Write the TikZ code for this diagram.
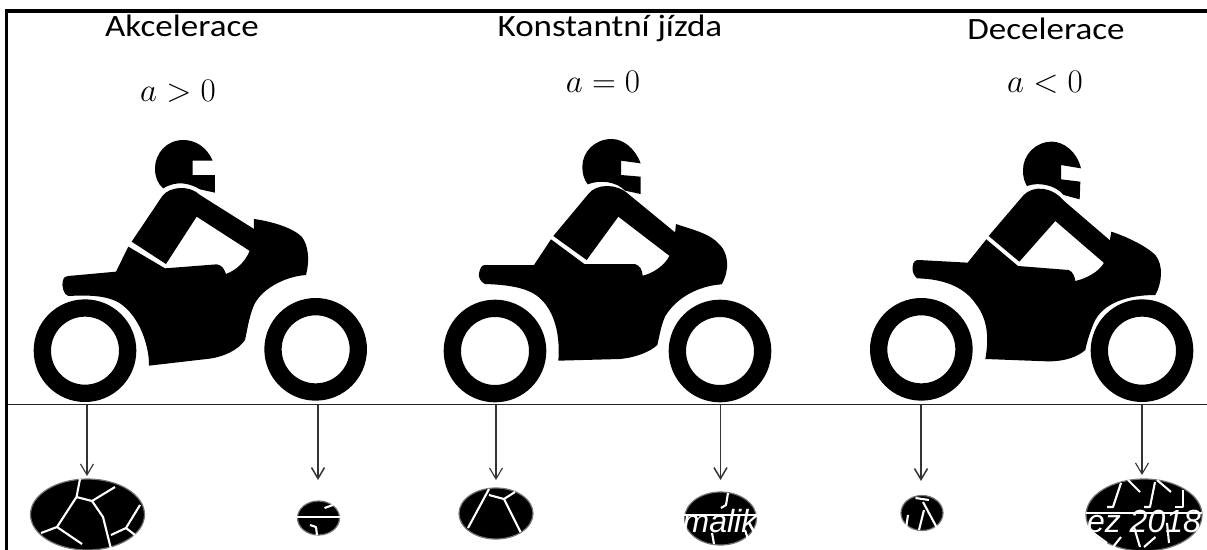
\RequirePackage{fix-cm}
\documentclass[tikz,border=0pt]{standalone}
\usepackage{amsmath}
\usepackage{fontspec}
\setmainfont{Carlito}
\newfontfamily\markfont{Liberation Sans}
\usetikzlibrary{arrows.meta,shapes.geometric}
\newcommand{\widetitle}[1]{\scalebox{1.13}[1]{#1}}
\tikzset{
  title/.style={font=\fontsize{31}{34}\selectfont,inner sep=0pt,anchor=base},
  law/.style={font=\fontsize{33}{36}\selectfont,inner sep=0pt,anchor=base},
  wheel/.style={draw=black,line width=17.3pt,fill=white},
  crack/.style={draw=white,line width=2.1pt,line join=round},
  hole/.style={ellipse,fill=black,draw=black!55,line width=1.2pt,inner sep=0pt},
  drop/.style={draw=black!80,line width=1.1pt,->,>={Straight Barb[length=11pt,width=13pt]}},
  marktext/.style={text=white,inner sep=0pt,anchor=base,font=\markfont\itshape\fontsize{32}{34}\selectfont},
  bike/.style={x=0.33333pt,y=-0.33333pt}
}
\begin{document}
\begin{tikzpicture}[x=1pt,y=-1pt]
\useasboundingbox (0,0) rectangle (1207,549);
\fill[white] (0,0) rectangle (1207,549);
\node[title] (akc) at (182,36) {\widetitle{Akcelerace}};
\node[title] (kon) at (610,36.5) {\widetitle{Konstantní jízda}};
\node[title] (dec) at (1046,39.5) {\widetitle{Decelerace}};
\node[law] (lawa) at (178,101.5) {$a>0$};
\node[law] (lawk) at (603,92.5) {$a=0$};
\node[law] (lawd) at (1045,92.5) {$a<0$};

\begin{scope}[bike,shift={(0pt,-120pt)}]
\draw[wheel] (255,692) circle (128);
\draw[wheel] (947,688) circle (128);
\fill (638,122) .. controls (620,80) and (585,60) .. (550,60) .. controls (500,60) and (465,100) .. (465,145) .. controls (465,170) and (472,190) .. (490,205) .. controls (530,180) and (570,190) .. (600,208) -- (645,218) -- (645,165) -- (578,165) -- (578,122) -- cycle;
\fill (395,365) -- (487,228) .. controls (510,198) and (570,195) .. (600,225) -- (762,327) -- (775,340) -- (760,400) -- (745,390) -- (590,290) -- (498,432) -- cycle;
\fill (385,380) -- (495,445) -- (650,433) .. controls (665,435) and (672,445) .. (678,462) .. controls (710,450) and (735,425) .. (748,395) -- (762,330) -- (762,297) .. controls (820,305) and (880,325) .. (905,350) .. controls (925,375) and (930,420) .. (918,465) .. controls (850,470) and (780,510) .. (760,560) .. controls (745,600) and (742,630) .. (735,660) .. controls (715,690) and (670,712) .. (620,717) -- (447,737) .. controls (448,680) and (420,590) .. (360,550) .. controls (320,525) and (260,525) .. (205,528) .. controls (190,525) and (185,495) .. (188,485) .. controls (190,470) and (200,468) .. (205,468) -- (348,455) -- cycle;
\end{scope}

\begin{scope}[bike,shift={(420pt,-120pt)}]
\draw[wheel] (225,693) circle (128);
\draw[wheel] (900,693) circle (128);
\fill (662,130) .. controls (645,85) and (610,57) .. (575,57) .. controls (525,57) and (487,95) .. (487,140) .. controls (487,162) and (492,178) .. (503,193) .. controls (540,178) and (590,185) .. (615,212) -- (662,222) -- (662,170) -- (603,165) -- (603,122) -- cycle;
\fill (400,348) -- (505,222) .. controls (530,190) and (590,190) .. (625,222) -- (765,337) -- (778,350) -- (760,415) -- (745,405) -- (595,290) -- (500,420) -- cycle;
\fill (393,358) -- (493,432) -- (645,432) .. controls (660,437) and (667,450) .. (668,467) .. controls (700,460) and (735,435) .. (748,408) -- (765,340) -- (768,312) .. controls (820,330) and (870,340) .. (900,375) .. controls (925,400) and (930,450) .. (905,493) .. controls (840,497) and (770,530) .. (735,590) .. controls (722,620) and (718,650) .. (712,675) .. controls (690,695) and (650,712) .. (600,717) -- (415,722) .. controls (420,660) and (410,590) .. (370,545) .. controls (340,510) and (290,495) .. (195,492) .. controls (180,485) and (175,470) .. (177,460) .. controls (180,445) and (185,435) .. (195,435) -- (342,435) -- cycle;
\end{scope}

\begin{scope}[bike,shift={(807pt,-120pt)}]
\draw[wheel] (343,688) circle (128);
\draw[wheel] (1005,692) circle (128);
\fill (822,145) .. controls (810,95) and (770,65) .. (735,65) .. controls (685,65) and (648,105) .. (648,150) .. controls (648,172) and (652,185) .. (660,198) .. controls (695,185) and (745,195) .. (770,225) -- (818,238) -- (820,185) -- (762,178) -- (762,135) -- cycle;
\fill (545,348) -- (650,225) .. controls (680,195) and (735,200) .. (770,242) -- (910,362) -- (922,375) -- (905,438) -- (890,428) -- (745,303) -- (637,425) -- cycle;
\fill (538,358) -- (633,438) -- (785,450) .. controls (798,455) and (803,470) .. (805,483) .. controls (840,475) and (875,455) .. (890,430) -- (908,365) -- (913,335) .. controls (960,350) and (1020,380) .. (1045,405) .. controls (1070,435) and (1065,490) .. (1045,525) .. controls (960,525) and (885,550) .. (860,610) .. controls (848,640) and (840,665) .. (835,690) .. controls (810,712) and (770,725) .. (720,724) -- (535,717) .. controls (545,660) and (545,600) .. (505,550) .. controls (470,500) and (410,477) .. (330,475) .. controls (320,465) and (315,455) .. (317,440) .. controls (318,425) and (325,420) .. (335,420) -- (482,428) -- cycle;
\end{scope}

\node[hole,minimum width=114pt,minimum height=71pt] (holeA) at (87.5,514.5) {};
\node[hole,minimum width=42pt,minimum height=34pt] (holeB) at (318.5,518) {};
\node[hole,minimum width=74pt,minimum height=51pt] (holeC) at (496,513.5) {};
\node[hole,minimum width=72pt,minimum height=53pt] (holeD) at (720.5,518.5) {};
\node[hole,minimum width=42pt,minimum height=35pt] (holeE) at (922,513) {};
\node[hole,minimum width=116pt,minimum height=72pt] (holeF) at (1144,515) {};

\draw[crack] (80,479) -- (76.5,497) -- (57,527) -- (41,533);
\draw[crack] (76.5,497) -- (92,501) -- (115,487);
\draw[crack] (92,501) -- (103,517) -- (111,549);
\draw[crack] (57,527) -- (82,544);
\draw[crack] (111,535) -- (126,528) -- (140,505);
\draw[crack] (126,528) -- (135,535);
\draw[crack] (297,517) -- (340,517);
\draw[crack] (324.5,508) -- (333,505);
\draw[crack] (310,525) -- (316,527) -- (317,535);
\draw[crack] (489,489) -- (468,528);
\draw[crack] (489,495) -- (504,499) -- (515,492);
\draw[crack] (504,499) -- (520.5,532);
\draw[crack] (684,515) -- (757,515);
\draw[crack] (728,493) -- (726,505) -- (721,508);
\draw[crack] (712,533) -- (714,544);
\draw[crack] (745,530) -- (749,542);
\draw[crack] (915.5,498) -- (929,500);
\draw[crack] (923,502) -- (937,528);
\draw[crack] (924,510) -- (919,530);
\draw[crack] (908,515) -- (906,528);
\draw[crack] (1086,513) -- (1202,513);
\draw[crack] (1121,483) -- (1113,507) -- (1107,507);
\draw[crack] (1128,480) -- (1140,492);
\draw[crack] (1155,482) -- (1150,507) -- (1144,507);
\draw[crack] (1157,480) -- (1171,492);
\draw[crack] (1183,490) -- (1183,507) -- (1175,507);
\draw[crack] (1092,532) -- (1107,543);
\draw[crack] (1121,537) -- (1113,547);
\draw[crack] (1134,527) -- (1140,547);
\draw[crack] (1155.5,537) -- (1144,547);
\draw[crack] (1167,523) -- (1169,543);
\node[marktext] (markA) at (720,532) {malik};
\node[marktext] (markB) at (1144,532) {ez 2018};

\coordinate (cornerL) at (6.5,549);
\coordinate (cornerT) at (6.5,11);
\coordinate (cornerR) at (1207,11);
\draw[line width=3.6pt,line cap=rect] (cornerL) -- (cornerT) -- (cornerR);
\coordinate (roadL) at (8,404.5);
\coordinate (roadR) at (1207,404.5);
\draw[line width=1.5pt,black!85] (roadL) -- (roadR);

\coordinate (topA) at (87,405);
\coordinate (tipA) at (87,476);
\coordinate (topB) at (318,405);
\coordinate (tipB) at (318,480);
\coordinate (topC) at (496,405);
\coordinate (tipC) at (496,480);
\coordinate (topD) at (720.5,405);
\coordinate (tipD) at (720.5,480);
\coordinate (topE) at (921,405);
\coordinate (tipE) at (921,481);
\coordinate (topF) at (1142,405);
\coordinate (tipF) at (1142,475);
\draw[drop] (topA) -- (tipA);
\draw[drop,line width=1.5pt] (topB) -- (tipB);
\draw[drop] (topC) -- (tipC);
\draw[drop,line width=1.5pt] (topD) -- (tipD);
\draw[drop,line width=1.5pt] (topE) -- (tipE);
\draw[drop] (topF) -- (tipF);
\end{tikzpicture}
\end{document}
